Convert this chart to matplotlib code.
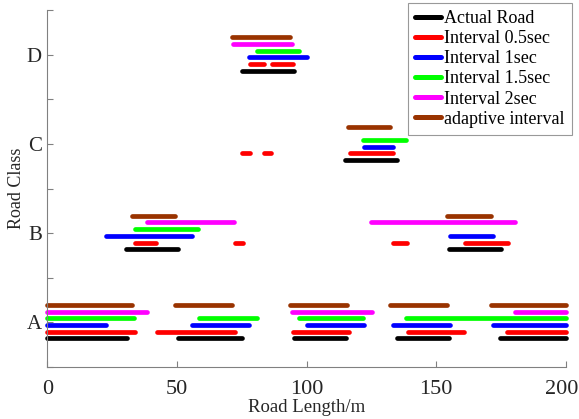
import matplotlib.pyplot as plt
from matplotlib.transforms import ScaledTranslation

plt.rcParams['font.family'] = ['Liberation Serif', 'DejaVu Serif']

# Road classes on the y axis
road_classes = ['A', 'B', 'C', 'D']

# Segments per series: (road class, start m, end m)
actual_road = [('A', 0, 30.5), ('A', 50.4, 75.2), ('A', 95.2, 115.2), ('A', 134.9, 154.8), ('A', 174.8, 200),
               ('B', 30.4, 50.4), ('B', 154.8, 174.9),
               ('C', 115, 134.8),
               ('D', 75.2, 95)]
interval_05 = [('A', 0, 33.6), ('A', 42.1, 72.4), ('A', 94.7, 116.5), ('A', 139, 160.7), ('A', 177.5, 200),
               ('B', 33.6, 41.9), ('B', 72.4, 75.4), ('B', 133.3, 138.8), ('B', 161, 177.8),
               ('C', 75.2, 78.1), ('C', 83.4, 86.2), ('C', 116.7, 133.3),
               ('D', 78.1, 83.4), ('D', 86.5, 94.9)]
interval_1 = [('A', 0, 22.4), ('A', 55.9, 77.9), ('A', 100.1, 122.2), ('A', 133.3, 155.4), ('A', 172, 200),
              ('B', 22.6, 55.9), ('B', 155.2, 172),
              ('C', 122.3, 133.3),
              ('D', 77.8, 100.1)]
interval_15 = [('A', 0, 33.3), ('A', 58.5, 80.7), ('A', 97.2, 121.9), ('A', 138.4, 200),
               ('B', 33.6, 58.2),
               ('C', 121.9, 138.4),
               ('D', 80.7, 97.2)]
interval_2 = [('A', 0, 38.5), ('A', 94.2, 125.1), ('A', 180.6, 200),
              ('B', 38.5, 71.8), ('B', 124.9, 180.3),
              ('D', 71.6, 94.2)]
adaptive = [('A', 0, 32.7), ('A', 49.4, 71.4), ('A', 93.5, 115.6), ('A', 132.2, 154.3), ('A', 171, 200),
            ('B', 32.7, 49.4), ('B', 154.3, 171.1),
            ('C', 115.9, 132.2),
            ('D', 71.4, 93.7)]

series = [actual_road, interval_05, interval_1, interval_15, interval_2, adaptive]
labels = ['Actual Road', 'Interval 0.5sec', 'Interval 1sec', 'Interval 1.5sec', 'Interval 2sec', 'adaptive interval']
colors = ['#000000', '#ff0000', '#0000ff', '#00ff00', '#ff00ff', '#993300']
offsets = [-0.18, -0.105, -0.03, 0.045, 0.12, 0.195]

fig = plt.figure(figsize=(5.79, 4.19), dpi=100)
ax = fig.add_axes([0.082, 0.124, 0.895, 0.852])

for segs, lab, col, off in zip(series, labels, colors, offsets):
    first = True
    for cls, x0, x1 in segs:
        y = road_classes.index(cls) + 1 + off
        ax.plot([x0, x1], [y, y], color=col, lw=3.4, solid_capstyle='round',
                label=lab if first else None, clip_on=False)
        first = False

ax.set_xlim(0, 200)
ax.set_ylim(0.5, 4.5)
ax.set_xticks([0, 50, 100, 150, 200])
yt = [0.5 + 0.5 * i for i in range(9)]
ax.set_yticks(yt)
ax.set_yticklabels(['' if i % 2 == 0 else road_classes[i // 2] for i in range(9)])
ax.tick_params(direction='in', length=4, width=0.8, color='#808080', labelcolor='#262626')
ax.tick_params(axis='x', labelsize=16, pad=9)
ax.tick_params(axis='y', labelsize=15, pad=4)
for s in ['top', 'right']:
    ax.spines[s].set_visible(False)
for s in ['left', 'bottom']:
    ax.spines[s].set_color('#808080')
    ax.spines[s].set_linewidth(0.8)

# keep the last x label inside the canvas
fig.canvas.draw()
last = ax.get_xticklabels()[-1]
last.set_transform(last.get_transform() + ScaledTranslation(-4 / 100, 0, fig.dpi_scale_trans))

ax.set_xlabel('Road Length/m', fontsize=13.5, color='#262626', labelpad=0)
ax.set_ylabel('Road Class', fontsize=13, color='#262626', labelpad=1)

leg = ax.legend(loc='upper right', bbox_to_anchor=(572 / 579, 1 - 3 / 419), bbox_transform=fig.transFigure,
                fontsize=13, frameon=True, fancybox=False, edgecolor='#808080',
                handlelength=1.4, handletextpad=0.2, labelspacing=0.17, borderpad=0.4,
                borderaxespad=0)
leg.get_frame().set_linewidth(0.8)
for line in leg.get_lines():
    line.set_linewidth(3.6)
    line.set_solid_capstyle('round')

fig.savefig('out.png', dpi=100)
